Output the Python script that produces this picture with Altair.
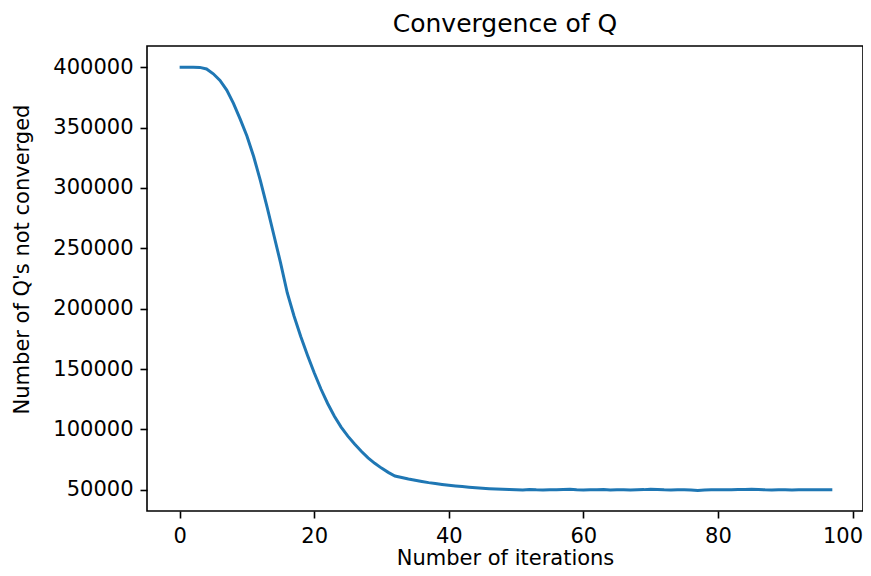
import altair as alt
import pandas as pd

iterations = list(range(98))
not_converged = [
    400000, 400000, 400000, 399800, 398500, 394500, 389000, 381000, 370000, 357000,
    343000, 326000, 306000, 284000, 261000, 238000, 213000, 194000, 177000, 161500,
    147000, 133500, 121500, 111000, 102000, 94500, 88000, 82000, 76500, 72000,
    68000, 64500, 61500, 60200, 59000, 58000, 57000, 56000, 55300, 54500,
    53800, 53200, 52700, 52200, 51800, 51400, 51000, 50700, 50500, 50300,
    50100, 49900, 50400, 50000, 49900, 50100, 50000, 50300, 50500, 50000,
    49900, 50100, 50000, 50200, 49900, 50000, 50100, 49900, 50000, 50200,
    50600, 50300, 50000, 49900, 50000, 50100, 49800, 49500, 49900, 50000,
    50100, 50000, 50000, 50200, 50300, 50500, 50300, 50000, 49900, 50000,
    50100, 49900, 50000, 50100, 50000, 50000, 50100, 50100,
]
x_ticks = [0, 20, 40, 60, 80, 100]
y_ticks = [50000, 100000, 150000, 200000, 250000, 300000, 350000, 400000]

df = pd.DataFrame({"iteration": iterations, "count": not_converged})

FONT = "DejaVu Sans"

chart = alt.Chart(df).mark_line(color="#1f77b4", strokeWidth=3, clip=True).encode(
    x=alt.X(
        "iteration:Q",
        title="Number of iterations",
        scale=alt.Scale(domain=[-4.85, 101.56], nice=False, zero=False),
        axis=alt.Axis(
            values=x_ticks,
            format="d",
            titlePadding=1,
            labelOffset=alt.condition("datum.value == 100", alt.value(-10), alt.value(0)),
        ),
    ),
    y=alt.Y(
        "count:Q",
        title="Number of Q's not converged",
        scale=alt.Scale(domain=[32500, 417500], nice=False, zero=False),
        axis=alt.Axis(
            values=y_ticks,
            format="d",
            titleX=-115,
            titleY=213,
            titleAngle=270,
            titleAlign="center",
            titleBaseline="bottom",
        ),
    ),
).properties(
    width=716,
    height=465,
    background="white",
    title=alt.TitleParams(
        "Convergence of Q",
        fontSize=25,
        font=FONT,
        fontWeight="normal",
        color="#000000",
        anchor="middle",
        offset=9,
    ),
    autosize=alt.AutoSizeParams(type="none"),
    padding={"left": 139, "top": 38, "right": 0, "bottom": 57},
).configure_view(
    stroke="#000000",
    strokeWidth=1.6,
).configure_axis(
    grid=False,
    domain=False,
    ticks=True,
    tickSize=7,
    tickWidth=1.6,
    tickColor="#000000",
    labelFont=FONT,
    labelFontSize=21,
    labelColor="#000000",
    labelPadding=7,
    titleFont=FONT,
    titleFontSize=21,
    titleFontWeight="normal",
    titleColor="#000000",
)

chart.save("out.html", embed_options={"renderer": "svg", "actions": False})
